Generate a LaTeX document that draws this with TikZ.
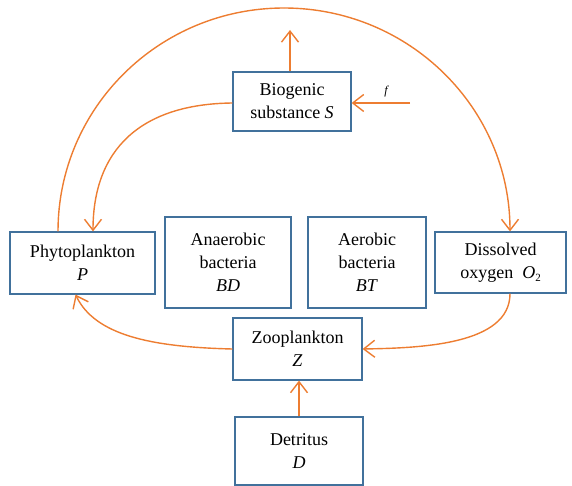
\documentclass[tikz,border=0pt]{standalone}
\usepackage{fontspec}
\setmainfont{Liberation Serif}
\usetikzlibrary{arrows.meta}
\definecolor{arr}{HTML}{ED7D31}
\definecolor{bx}{HTML}{41719C}
\begin{document}
\begin{tikzpicture}[x=1pt,y=-1pt,
  box/.style={draw=bx, line width=1.2pt, align=center, inner sep=0pt,
    font=\fontsize{18}{23}\selectfont},
  flow/.style={draw=arr, line width=1.4pt, -{Straight Barb[length=11pt,width=17pt,line width=1.4pt]}},
  plain/.style={draw=arr, line width=1.4pt}]
\useasboundingbox (0,0) rectangle (572,486);

\node[box, minimum width=118pt, minimum height=59pt] (S) at (292,101.5) {Biogenic\\substance \textit{S}};
\node[box, minimum width=145pt, minimum height=62pt] (P) at (82.5,263) {Phytoplankton\\\textit{P}};
\node[box, minimum width=126pt, minimum height=91pt] (BD) at (228,262.5) {Anaerobic\\bacteria\\\textit{BD}};
\node[box, minimum width=118pt, minimum height=91pt] (BT) at (367,262.5) {Aerobic\\bacteria\\\textit{BT}};
\node[box, minimum width=131pt, minimum height=61pt] (O) at (500.5,262.5) {Dissolved\\oxygen\ \ \textit{O}\raisebox{-0.4ex}{\fontsize{11}{11}\selectfont 2}};
\node[box, minimum width=129pt, minimum height=62pt] (Z) at (297.5,349) {Zooplankton\\\textit{Z}};
\node[box, minimum width=128pt, minimum height=68pt] (D) at (299,451) {Detritus\\\textit{D}};

\coordinate (top) at (290,30);
\coordinate (fin) at (410,103);
\coordinate (arctop) at (284,8);
\node[font=\fontsize{12}{12}\selectfont\itshape, inner sep=0pt] (flab) at (386,92) {f};

% S up
\draw[flow] ([xshift=-2pt]S.north) -- (top);
% f into S
\draw[flow] (fin) -- (fin -| S.east);
% big arc P -> O
\draw[plain] ([xshift=-24.5pt]P.north) .. controls (58,108) and (159,8) .. (arctop);
\draw[flow] (arctop) .. controls (409,8) and (510,108) .. ([xshift=9.5pt]O.north);
% S -> P
\draw[flow] ([yshift=-1.5pt]S.west) .. controls (140,104) and (93,150) .. ([xshift=10.5pt]P.north);
% O -> Z
\draw[flow] ([xshift=9.5pt]O.south) .. controls (510,345) and (420,348) .. (Z.east);
% Z -> P
\draw[flow] (Z.west) .. controls (150,347) and (95,335) .. ([xshift=-7pt]P.south);
% D -> Z
\draw[flow] (D.north) -- (D.north |- Z.south);
\end{tikzpicture}
\end{document}
